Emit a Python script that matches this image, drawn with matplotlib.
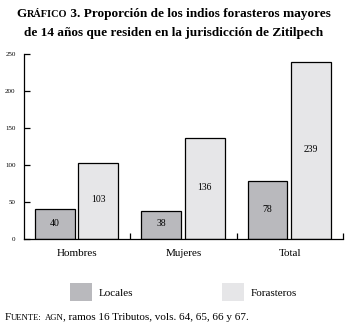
import numpy as np
import matplotlib.pyplot as plt
from matplotlib.offsetbox import TextArea, HPacker, AnchoredOffsetbox
from matplotlib.patches import Patch

categories = ["Hombres", "Mujeres", "Total"]
locales = [40, 38, 78]
forasteros = [103, 136, 239]
yticks = [0, 50, 100, 150, 200, 250]

c_loc = "#b9b9bd"
c_for = "#e6e6e8"
serif = "Liberation Serif"
plt.rcParams["font.family"] = serif

fig = plt.figure(figsize=(3.48, 3.29), dpi=100)
ax = fig.add_axes([24/348, 1-239/329, 319/348, 185/329])

x = np.arange(len(categories))
w = 0.375
b1 = ax.bar(x + 0.29, locales, w, color=c_loc, edgecolor="black", linewidth=0.9)
b2 = ax.bar(x + 0.70, forasteros, w, color=c_for, edgecolor="black", linewidth=0.9)
for bars, vals in ((b1, locales), (b2, forasteros)):
    for r, v in zip(bars, vals):
        ax.text(r.get_x() + r.get_width()/2, v/2 + 1.5, str(v), ha="center", va="center",
                fontsize=7)

ax.set_xlim(0, 3)
ax.set_ylim(0, 250)
ax.set_yticks(yticks)
ax.set_yticklabels([str(t) for t in yticks], fontsize=5)
ax.tick_params(axis="y", direction="in", length=4, width=0.9, pad=6)
ax.set_xticks([1, 2, 3])
ax.set_xticklabels(["", "", ""])
ax.tick_params(axis="x", direction="in", length=4, width=0.9)
ax.set_xticks(x + 0.5, minor=True)
ax.set_xticklabels(categories, minor=True, fontsize=8)
ax.tick_params(axis="x", which="minor", length=0, pad=7)
for s in ["top", "right"]:
    ax.spines[s].set_visible(False)
for s in ["left", "bottom"]:
    ax.spines[s].set_linewidth(0.9)


def smallcaps(parts, size, weight="normal"):
    boxes = []
    for txt, small in parts:
        fs = size * 0.78 if small else size
        boxes.append(TextArea(txt, textprops=dict(fontsize=fs, fontweight=weight,
                                                  family=serif)))
    return HPacker(children=boxes, align="baseline", pad=0, sep=0)


def place(box, xy, loc):
    ab = AnchoredOffsetbox(loc=loc, child=box, pad=0, frameon=False,
                           bbox_to_anchor=xy, bbox_transform=fig.transFigure,
                           borderpad=0)
    fig.add_artist(ab)


title1 = smallcaps([("G", False), ("RÁFICO", True),
                    (" 3. Proporción de los indios forasteros mayores", False)], 9.5, "bold")
place(title1, (0.5, 1 - 8/329), "upper center")
fig.text(0.5, 1 - 33/329, "de 14 años que residen en la jurisdicción de Zitilpech",
         ha="center", va="center", fontsize=9.5, fontweight="bold")

fig.legend(handles=[Patch(facecolor=c_loc, edgecolor="none", label="Locales")],
           loc="center left", bbox_to_anchor=(70/348, 1 - 292/329), frameon=False,
           fontsize=8, handlelength=2.0, handleheight=2.0, handletextpad=0.6,
           borderpad=0, borderaxespad=0)
fig.legend(handles=[Patch(facecolor=c_for, edgecolor="none", label="Forasteros")],
           loc="center left", bbox_to_anchor=(222/348, 1 - 292/329), frameon=False,
           fontsize=8, handlelength=2.0, handleheight=2.0, handletextpad=0.6,
           borderpad=0, borderaxespad=0)

src = smallcaps([("F", False), ("UENTE:", True), (" ", False), ("AGN", True),
                 (", ramos 16 Tributos, vols. 64, 65, 66 y 67.", False)], 8)
place(src, (5/348, 1 - 318/329), "center left")

fig.savefig("out.png", dpi=100)
